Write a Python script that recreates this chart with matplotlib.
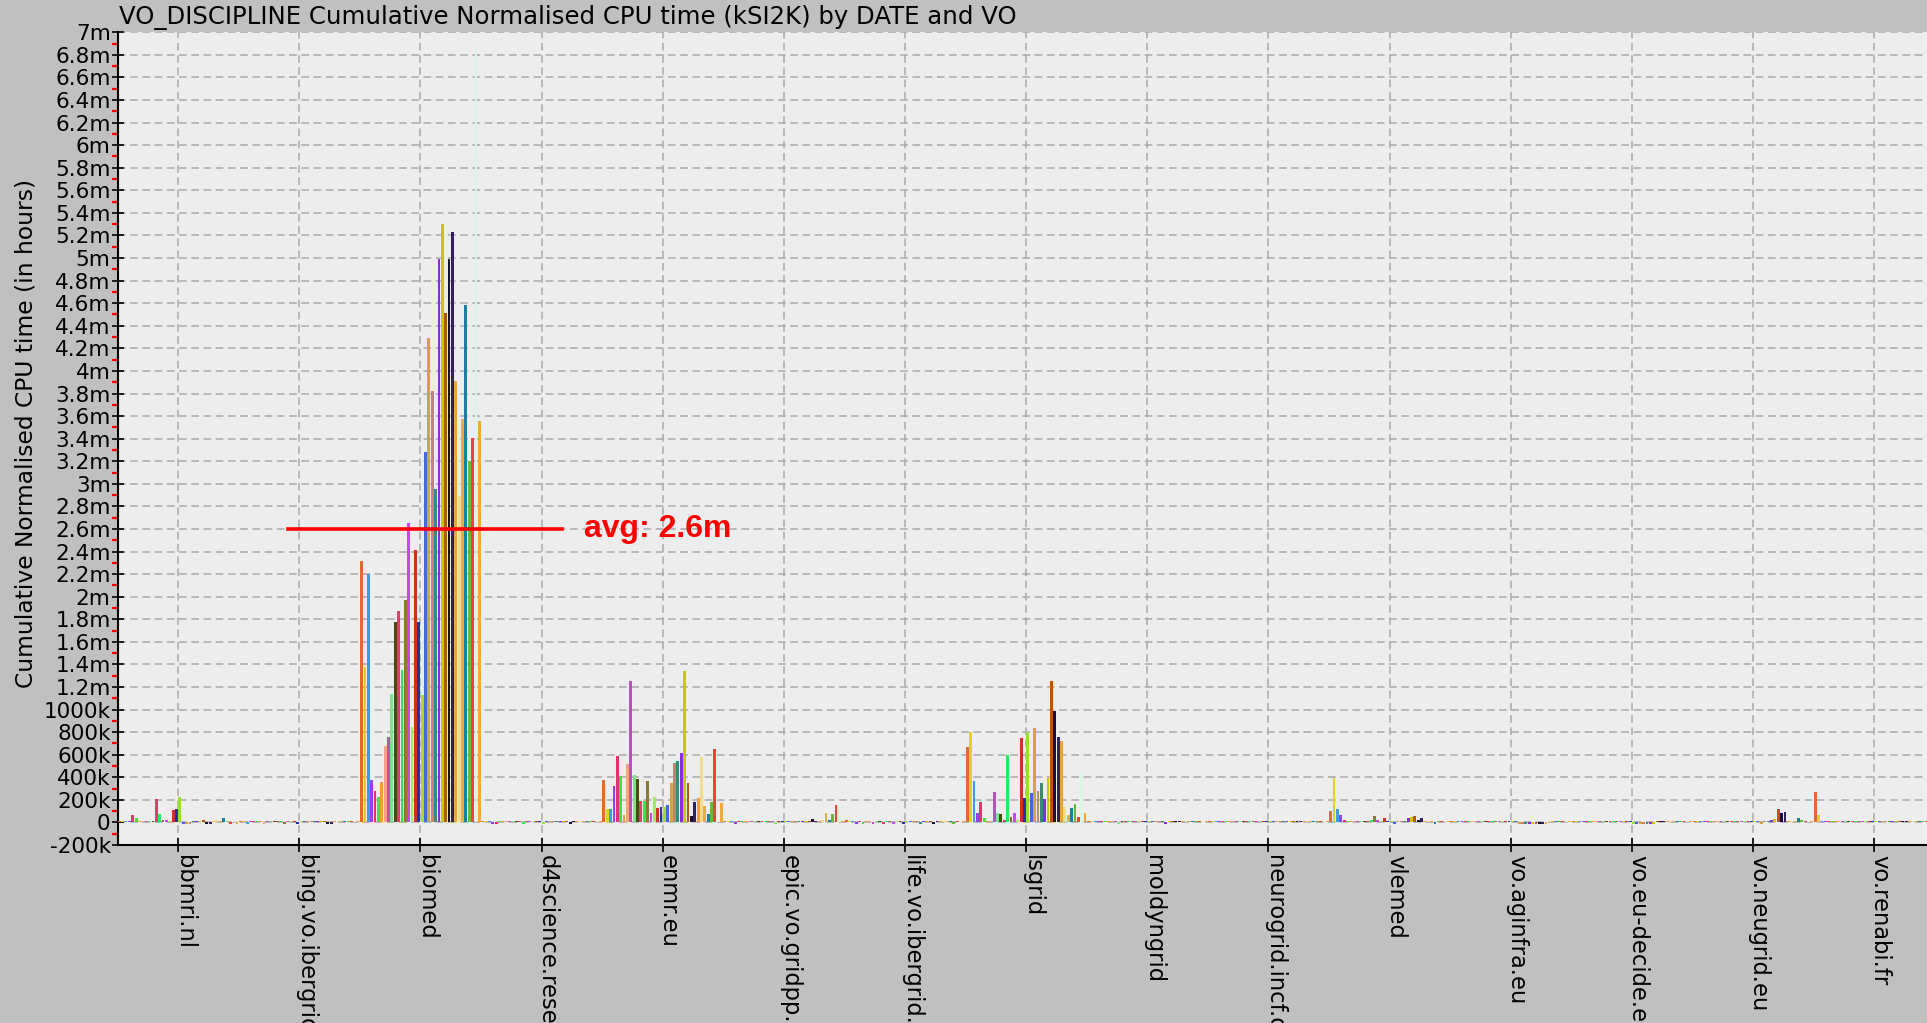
import numpy as np
import matplotlib
matplotlib.use("Agg")
from matplotlib import pyplot as plt
from matplotlib import transforms
from matplotlib.ticker import FuncFormatter, MultipleLocator

# VOs on the x axis
vos = ["bbmri.nl", "bing.vo.ibergrid.eu", "biomed", "d4science.research-infrastructures.eu",
       "enmr.eu", "epic.vo.gridpp.ac.uk", "life.vo.ibergrid.eu", "lsgrid", "moldyngrid",
       "neurogrid.incf.org", "vlemed", "vo.aginfra.eu", "vo.eu-decide.eu", "vo.neugrid.eu",
       "vo.renabi.fr"]

# one colour per date (36 dates in every VO group)
date_colors = ["#e6682e", "#e3cf2a", "#3d9be0", "#9b3df0", "#e83070", "#4ade3a",
               "#f0a030", "#f7a08a", "#bb4fbb", "#80e090", "#4a4a0a", "#d9406a",
               "#22ee55", "#857a3a", "#cc44ee", "#99ee66", "#cc3322", "#2233aa",
               "#99e02a", "#4466dd", "#d9a040", "#c98070", "#3a8a7a", "#8a2be2",
               "#c8c800", "#b8560e", "#1a1033", "#33205a", "#f0a040", "#f0dc90",
               "#e0b040", "#1a80a0", "#66bb33", "#ee4433", "#d8f5e6", "#f5a733"]

# cumulative normalised CPU time per date, in thousands of hours
bbmri_k = [12, 10, 12, 15, 65, 35, 10, 12, 10, 12, 10, 204, 71, 25, 25, 12, 109, 118,
           227, -15, -12, -10, 10, 12, 12, 20, -14, -12, 12, 20, 15, 35, 12, -14, 10, -10]
bing_k = [10, 12, -10, 12, 10, 12, 10, -12, 10, 12, 10, 12, 10, -10, 12, 10, 12, -12,
          10, 12, 10, 12, 10, 12, 10, 12, -10, -12, 10, 12, 10, 12, 10, 12, 10, 12]
biomed_k = [2320, 1376, 2200, 378, 277, 224, 358, 675, 761, 1134, 1776, 1870,
            1350, 1970, 2650, 844, 2410, 1780, 1130, 3280, 4290, 3820, 2950, 4990,
            5300, 4510, 4990, 5230, 3910, 2890, 3570, 4580, 3200, 3410, 6850, 3560]
d4science_k = [10, 12, 10, -12, -12, 10, 12, 10, 12, 10, 12, 10, -10, 12, 10, 12, 10, 12,
               -12, 10, 12, 10, 12, 10, 12, 10, -16, 10, 12, 10, 12, 10, 12, 10, 12, 10]
enmr_k = [375, 115, 118, 322, 587, 410, 65, 514, 1250, 419, 381, 189,
          189, 369, 80, 221, 124, 133, 138, 153, 351, 523, 546, 617,
          1343, 346, 59, 183, 212, 582, 144, 74, 183, 647, 12, 168]
epic_k = [10, 12, 10, -10, 12, 10, 12, 10, 12, 10, 12, 10, 12, 10, 12, -10, 12, 10,
          12, 10, 12, 10, 12, 10, 12, 14, 27, 15, 12, 20, 80, 20, 74, 153, 60, 12]
life_k = [25, 15, 12, -12, 10, -12, 10, 12, -12, 10, 12, -10, 12, 10, -12, 10, 12, -12,
          10, 12, 10, 12, -10, 12, 10, 12, -12, 10, 12, 14, 10, 12, -10, 10, 12, 10]
lsgrid_k = [670, 803, 369, 80, 183, 35, 12, 10, 266, 85, 74, 20,
            596, 50, 85, 20, 744, 213, 803, 257, 833, 280, 351, 206,
            390, 1255, 986, 759, 723, 133, 65, 124, 162, 50, 449, 80]
moldyngrid_k = [10, 12, 10, 12, 10, 12, 10, 12, 10, -10, 12, 10, 12, 10, 12, 10, 12, 10,
                12, 10, 12, 10, 12, -12, 10, 12, 10, 12, 10, 12, 10, 12, 10, 12, 10, 12]
neurogrid_k = [12, 10, 12, 10, 12, 10, 12, 10, 12, 10, 12, 10, 12, 10, 12, 10, 12, 10,
               12, 10, 12, 10, 12, 10, 12, 10, 12, 10, 12, 10, 12, 10, 12, 10, 12, 10]
vlemed_k = [103, 390, 118, 65, 20, 12, 10, 12, 10, 12, 12, 15, 25, 56, 25, 12, 41, 12,
            10, -10, 10, 12, 12, 41, 50, 56, 20, 35, 12, 10, 12, -12, 15, 12, 10, 12]
aginfra_k = [10, 12, 10, 12, 10, 12, 10, 12, 10, 12, 10, 12, 10, 12, 10, 12, 10, 12,
             10, 12, -12, -10, -12, -12, -12, -10, -14, -12, -10, 12, 10, 12, 10, 12, 10, 12]
eudecide_k = [12, 10, 12, 10, 12, 10, 12, 10, 12, 10, 12, 10, 12, 10, 12, 10, 12, 10,
              -10, -12, -12, -12, -10, -12, -12, 12, 14, 12, 10, 12, 10, 12, 10, 12, 10, 12]
neugrid_k = [10, 12, 10, 12, 10, 12, 10, 12, 10, 12, 10, 12, 10, 12, 10, 12, 10, 12,
             10, 12, -10, 12, 15, 20, 30, 115, 80, 94, 12, 10, 12, 35, 25, 12, 10, 12]
renabi_k = [271, 65, 12, 15, 12, 10, 12, 10, 12, 10, 12, 10, 12, 10, 12, 10, 12, 10,
            12, 10, 12, 10, 12, 10, 12, 10, 12, 10, 12, 10, 12, 10, 12, 10, 12, 10]

avg_value = 2.6e6

values = np.array([bbmri_k, bing_k, biomed_k, d4science_k, enmr_k, epic_k, life_k,
                   lsgrid_k, moldyngrid_k, neurogrid_k, vlemed_k, aginfra_k,
                   eudecide_k, neugrid_k, renabi_k]) * 1000.0
n_dates = values.shape[1]

W, H = 1927, 1023
fig = plt.figure(figsize=(W / 100, H / 100), dpi=100)
fig.patch.set_facecolor("#c0c0c0")

ax = fig.add_axes([117.6 / W, (H - 845) / H, (W - 117.6) / W, (845 - 32.3) / H])
ax.set_facecolor("#ededed")

# bars: one series per date, grouped by VO
xpos = np.arange(len(vos))
bw = 1.0 / n_dates
for j in range(n_dates):
    ax.bar(xpos - 0.5 + (j + 0.5) * bw, values[:, j], width=bw * 0.85,
           color=date_colors[j], linewidth=0, zorder=3)

ax.set_xlim(-0.5, (W - 178.2) / 121.14)
ax.set_ylim(-200000, 7000000)

# grid
ax.yaxis.set_major_locator(MultipleLocator(200000))
ax.yaxis.set_minor_locator(MultipleLocator(100000))
ax.grid(True, which="major", color="#a9a9a9", linestyle=(0, (5, 3)), linewidth=1.1, zorder=1)
ax.set_axisbelow(True)

def fmt(v, pos):
    if abs(v) < 1:
        return "0"
    if abs(v) < 1.1e6:
        return "%dk" % round(v / 1000)
    return "%gm" % round(v / 1e6, 1)

ax.yaxis.set_major_formatter(FuncFormatter(fmt))
ax.tick_params(axis="y", which="major", direction="inout", length=8, width=1.2,
               labelsize=15.5, pad=1, colors="black")
ax.tick_params(axis="y", which="minor", direction="out", length=4, width=1.6, color="red")

ax.set_xticks(xpos)
ax.set_xticklabels(vos, rotation=270, fontsize=16.3, ha="center", va="top")
ax.tick_params(axis="x", direction="inout", length=10, width=1.2, pad=2)
offset = transforms.ScaledTranslation(6 / 100, 0, fig.dpi_scale_trans)
for lab in ax.get_xticklabels():
    lab.set_transform(lab.get_transform() + offset)

for side in ["top", "right"]:
    ax.spines[side].set_visible(False)
for side in ["left", "bottom"]:
    ax.spines[side].set_linewidth(1.5)
    ax.spines[side].set_color("black")

# average line around the biomed group
bi = vos.index("biomed")
ax.plot([bi - 1.09, bi + 1.17], [avg_value, avg_value], color="red", linewidth=2.6, zorder=5)
ax.text(bi + 1.35, avg_value, "avg: %gm" % (avg_value / 1e6), color="red", fontsize=23,
        fontweight="bold", family="Liberation Sans", va="center", ha="left", zorder=6)

fig.text(119 / W, 1 - 17 / H, "VO_DISCIPLINE Cumulative Normalised CPU time (kSI2K) by DATE and VO",
         fontsize=17.6, ha="left", va="center")
fig.text(26 / W, 1 - 433 / H, "Cumulative Normalised CPU time (in hours)", fontsize=16.8,
         rotation=90, ha="center", va="center")

fig.savefig("out.png", dpi=100, facecolor=fig.get_facecolor())
